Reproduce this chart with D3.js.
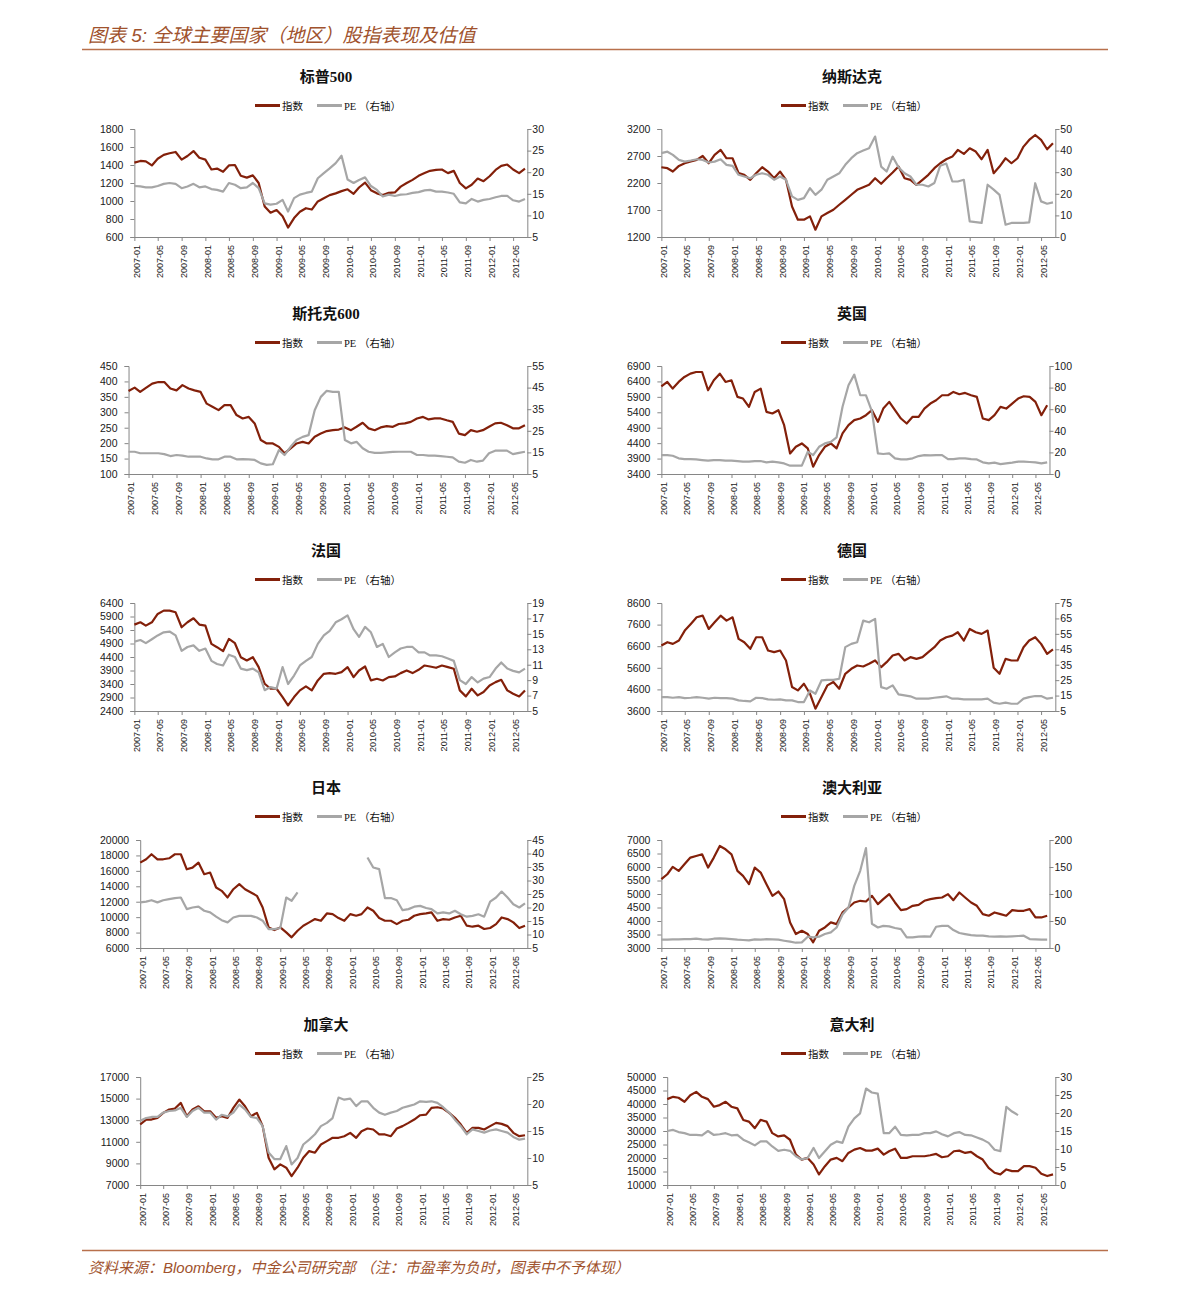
<!DOCTYPE html>
<html>
<head>
<meta charset="utf-8">
<title>全球主要国家（地区）股指表现及估值</title>
<script src="https://cdnjs.cloudflare.com/ajax/libs/d3/7.8.5/d3.min.js"></script>
<style>
body { margin: 0; background: #fff; }
svg text { font-family: "Liberation Sans", Arial, "Noto Sans CJK SC", sans-serif; }
.serif { font-family: "Liberation Serif", "Noto Sans CJK SC", serif; }
.axis path, .axis line { stroke: #868686; }
.axis text { fill: #1a1a1a; }
</style>
</head>
<body>
<script>
// monthly points, 2007-01 .. 2012-07
var months = d3.timeMonth.range(new Date(2007, 0, 1), new Date(2012, 7, 1));
var xTicks = d3.timeMonth.range(new Date(2007, 0, 1), new Date(2012, 5, 2), 4);

// ---- S&P 500
var spxIndex = [1427,1445,1440,1395,1470,1512,1530,1545,1460,1500,
  1555,1480,1460,1350,1360,1325,1395,1400,1280,1260,
  1285,1200,940,870,900,830,705,810,880,920,
  905,995,1030,1065,1085,1110,1130,1080,1150,1205,
  1120,1085,1065,1090,1095,1160,1200,1235,1280,1310,
  1335,1345,1350,1310,1335,1200,1140,1180,1250,1220,
  1275,1345,1390,1405,1350,1310,1360];
var spxPE = [16.8,16.7,16.5,16.5,16.8,17.3,17.5,17.3,16.3,16.7,
  17.3,16.5,16.7,16.1,15.9,15.5,17.5,17.1,16.3,16.5,
  17.5,16.3,12.8,12.5,12.7,13.6,10.9,14.0,14.8,15.2,
  15.5,18.6,19.8,20.9,22.1,23.8,18.3,17.5,18.2,18.8,
  16.8,15.9,14.4,14.8,14.5,14.8,14.9,15.2,15.4,15.8,
  15.9,15.5,15.5,15.3,15.0,13.0,12.8,13.8,13.2,13.6,
  13.8,14.2,14.5,14.5,13.5,13.2,13.8];
var spxLeft = [600,800,1000,1200,1400,1600,1800];
var spxRight = [5,10,15,20,25,30];

// ---- Nasdaq
var ndxIndex = [2492,2474,2412,2517,2566,2597,2628,2700,2566,2720,
  2812,2658,2658,2382,2351,2258,2382,2492,2412,2289,
  2412,2258,1766,1520,1520,1582,1335,1582,1643,1705,
  1797,1889,1982,2074,2123,2166,2289,2185,2289,2394,
  2505,2289,2258,2166,2258,2351,2474,2566,2640,2689,
  2812,2738,2843,2782,2640,2812,2382,2505,2658,2566,
  2658,2874,2997,3089,2997,2825,2935];
var ndxPE = [38.8,39.5,38.0,35.7,34.9,35.4,36.0,35.7,34.5,34.9,
  36.0,33.4,32.9,28.8,28.0,27.2,28.8,29.5,28.8,26.5,
  28.0,26.5,18.8,17.2,18.0,22.6,19.5,21.9,26.5,28.0,
  29.5,33.4,36.5,38.8,40.0,41.1,46.5,32.6,30.3,37.2,
  32.3,29.5,28.0,24.2,24.2,23.4,25.0,33.0,34.0,25.7,
  25.7,26.5,7.2,6.9,6.5,24.2,21.9,19.5,5.7,6.5,
  6.5,6.5,6.8,24.9,16.5,15.4,16.0];
var ndxLeft = [1200,1700,2200,2700,3200];
var ndxRight = [0,10,20,30,40,50];

// ---- Stoxx 600
var sxxIndex = [369,380,366,380,393,398,398,377,371,388,
  377,371,366,328,318,307,323,323,291,280,
  285,264,210,199,199,188,167,183,199,204,
  199,221,231,239,242,244,251,242,253,266,
  248,242,251,255,253,262,264,269,280,285,
  277,280,280,274,269,231,226,242,237,242,
  253,264,266,258,248,248,258];
var sxxPE = [15.3,15.3,14.6,14.6,14.6,14.6,14.2,13.3,13.8,13.5,
  13.0,13.0,13.0,12.2,11.8,11.8,13.0,13.0,11.8,11.9,
  11.8,11.5,9.9,9.2,9.5,16.1,13.8,17.6,20.7,22.2,
  23.0,34.5,40.7,43.5,43.0,43.0,20.7,19.2,19.9,16.9,
  15.3,14.8,14.8,15.0,15.2,15.3,15.3,15.3,13.8,13.8,
  13.5,13.5,13.3,13.0,12.7,10.7,10.2,11.5,10.7,11.2,
  14.6,15.8,15.8,15.8,14.2,14.8,15.3];
var sxxLeft = [100,150,200,250,300,350,400,450];
var sxxRight = [5,15,25,35,45,55];

// ---- UK
var ukIndex = [6243,6383,6168,6383,6545,6652,6706,6706,6114,6437,
  6652,6383,6437,5898,5845,5575,6060,6168,5414,5360,
  5468,4983,4067,4283,4391,4229,3637,4014,4283,4391,
  4229,4714,4983,5145,5198,5306,5468,5091,5521,5737,
  5468,5198,5037,5252,5252,5521,5683,5791,5952,5952,
  6060,5985,6028,5952,5898,5198,5145,5306,5575,5521,
  5683,5845,5920,5898,5737,5306,5629];
var ukPE = [17.5,17.5,16.9,14.5,13.8,13.8,13.5,12.9,12.3,12.9,
  12.9,12.3,12.3,12.0,11.4,11.4,12.0,12.0,10.8,11.4,
  10.8,9.8,7.7,7.7,7.7,20.6,17.5,25.2,28.3,29.8,
  34.0,62.2,82.2,92.0,72.9,72.9,58.0,19.1,18.5,19.1,
  14.5,13.5,13.5,14.5,16.6,17.5,17.2,17.5,17.5,13.8,
  13.8,14.5,14.5,13.8,13.5,10.8,9.8,10.5,9.2,9.8,
  10.5,11.4,11.4,11.1,10.8,9.8,10.8];
var ukLeft = [3400,3900,4400,4900,5400,5900,6400,6900];
var ukRight = [0,20,40,60,80,100];

// ---- France
var frIndex = [5600,5686,5563,5686,5994,6117,6117,6055,5501,5686,
  5834,5600,5563,4886,4763,4615,5071,4911,4394,4271,
  4394,4025,3409,3224,3224,2916,2609,2916,3163,3310,
  3163,3532,3778,3803,3778,3840,4025,3655,3901,4049,
  3532,3593,3532,3655,3680,3803,3901,3803,3926,4086,
  4049,4000,4086,4025,3963,3163,2941,3224,2978,3101,
  3347,3470,3557,3163,3040,2941,3163];
var frPE = [14.0,14.2,13.8,14.3,14.8,15.2,15.3,14.8,12.8,13.3,
  13.5,12.8,13.1,11.5,11.1,10.9,12.3,12.0,10.5,10.3,
  10.5,10.0,7.7,8.1,7.9,10.7,8.5,9.6,10.9,11.5,
  12.0,13.7,14.8,15.4,16.5,16.9,17.4,15.6,14.6,15.9,
  15.2,13.3,13.7,12.0,12.6,13.1,13.3,13.3,12.6,12.6,
  12.2,12.2,12.1,11.8,11.5,9.0,8.5,9.4,8.7,9.2,
  9.4,10.5,11.3,10.5,10.2,10.0,10.5];
var frLeft = [2400,2900,3400,3900,4400,4900,5400,5900,6400];
var frRight = [5,7,9,11,13,15,17,19];

// ---- Germany
var deIndex = [6631,6785,6708,6862,7323,7631,7938,8015,7400,7708,
  8015,7785,7938,6938,6785,6477,7015,7015,6400,6323,
  6400,5939,4708,4554,4862,4400,3708,4246,4785,4939,
  4631,5323,5554,5708,5662,5785,5939,5631,5862,6169,
  6246,5939,6092,6015,6092,6323,6554,6862,7015,7092,
  7246,6862,7400,7246,7169,7323,5600,5323,6015,5939,
  5939,6554,6862,7015,6708,6246,6450];
var dePE = [14.0,14.0,13.6,14.0,13.4,13.6,14.0,13.6,13.0,13.6,
  13.4,13.4,13.0,11.9,11.5,11.2,13.6,13.4,12.5,12.3,
  12.5,11.9,11.9,10.8,10.8,18.3,16.2,24.8,25.2,25.2,
  25.9,46.4,48.5,49.6,63.6,62.5,64.7,20.5,19.4,21.6,
  15.8,15.1,14.5,13.0,13.0,13.0,13.6,14.0,14.5,13.0,
  13.0,12.5,12.5,12.5,12.5,13.0,10.4,9.7,10.4,9.7,
  9.7,13.0,14.0,14.7,14.7,13.0,13.6];
var deLeft = [3600,4600,5600,6600,7600,8600];
var deRight = [5,15,25,35,45,55,65,75];

// ---- Japan
var jpIndex = [17070,17500,18150,17500,17500,17630,18150,18150,16200,16420,
  17070,15560,15780,13840,13410,12550,13620,14270,13620,13190,
  12760,11250,8670,8330,8670,8020,7380,8240,8890,9320,
  9750,9530,10480,10390,9880,9530,10390,10180,10390,11250,
  10820,9880,9530,9530,9100,9530,9660,10180,10390,10480,
  10610,9530,9750,9660,9960,10180,8890,8760,8890,8460,
  8590,9100,9960,9750,9320,8590,8890];
var jpPE = [21.9,22.2,22.7,21.9,22.7,23.1,23.5,23.7,19.4,20.0,
  20.3,18.8,18.2,16.6,15.3,14.5,16.3,16.9,16.9,16.9,
  16.3,15.1,12.0,12.0,12.4,23.7,22.5,25.6,null,null,
  null,null,null,null,null,null,null,null,null,38.5,
  34.8,34.2,23.5,23.5,22.7,19.0,19.4,20.3,20.6,19.8,
  19.4,17.8,18.2,17.8,18.8,17.5,16.6,16.9,17.5,16.6,
  22.2,23.7,25.9,23.7,21.2,20.0,21.5];
var jpLeft = [6000,8000,10000,12000,14000,16000,18000,20000];
var jpRight = [5,10,15,20,25,30,35,40,45];

// ---- Australia
var auIndex = [5548,5732,6003,5855,6101,6348,6409,6471,5978,6348,
  6778,6655,6471,5855,5671,5363,5978,5794,5363,4932,
  5092,4809,3947,3516,3639,3516,3209,3639,3762,3947,
  3885,4317,4501,4686,4748,4723,4932,4624,4809,4994,
  4686,4403,4440,4563,4600,4748,4809,4846,4871,4994,
  4772,5055,4871,4686,4563,4255,4194,4317,4255,4194,
  4403,4378,4378,4440,4132,4132,4194];
var auPE = [15.4,15.4,16.0,16.0,16.6,16.6,17.2,16.0,15.4,17.2,
  17.8,17.2,16.6,15.4,14.8,14.2,16.0,15.4,16.6,16.0,
  15.4,13.5,11.7,9.8,10.5,20.9,19.7,20.9,26.0,29.0,
  38.0,62.0,75.0,115.0,143.0,185.0,45.0,38.0,41.0,40.0,
  37.0,35.0,19.7,19.7,20.9,21.5,20.9,39.4,41.0,41.0,
  33.2,27.7,25.8,24.0,22.8,22.8,21.5,20.9,21.5,20.9,
  21.5,22.2,22.8,16.6,16.0,15.4,15.4];
var auLeft = [3000,3500,4000,4500,5000,5500,6000,6500,7000];
var auRight = [0,50,100,150,200];

// ---- Canada
var caIndex = [12600,13060,13060,13220,13680,13990,14080,14600,13370,13990,
  14290,13830,13830,13220,13370,13220,14140,14910,14290,13370,
  13680,12450,9520,8450,8910,8600,7830,8600,9520,10140,
  9990,10750,11060,11370,11370,11520,11830,11370,11980,12230,
  12140,11680,11680,11520,12230,12450,12750,13060,13460,13520,
  14140,14200,14080,13680,13220,12600,11830,12290,12290,12140,
  12450,12750,12660,12450,11830,11520,11610];
var caPE = [16.9,17.4,17.6,17.6,18.4,18.7,18.8,19.3,17.6,18.7,
  19.3,18.4,18.4,17.1,18.0,17.7,18.4,19.9,19.0,17.6,
  17.4,15.9,11.0,9.8,9.8,12.2,8.8,10.0,12.5,13.4,
  14.4,15.9,16.5,17.4,21.2,20.8,21.0,19.6,20.5,20.5,
  19.3,18.4,18.0,18.4,18.7,19.3,19.6,19.9,20.5,20.4,
  20.5,20.2,19.4,18.4,17.1,15.9,14.4,15.3,15.0,14.7,
  15.1,15.3,15.0,14.7,13.9,13.4,13.6];
var caLeft = [7000,9000,11000,13000,15000,17000];
var caRight = [5,10,15,20,25];

// ---- Italy
var itIndex = [41800,42660,42300,40830,43270,44500,42660,41800,39000,39600,
  40830,39000,38380,34100,33490,31040,34100,33490,29200,27990,
  28350,26760,21260,19420,20040,17590,13920,16980,19420,20040,
  18810,21870,23100,23710,22730,22730,23470,21260,22490,23470,
  20040,20040,20650,20650,20650,21020,21510,20280,20650,22490,
  22730,21870,22240,20650,19420,16370,14530,13920,15760,15150,
  15150,16980,16980,16370,14160,13310,13920];
var itPE = [15.0,15.3,14.7,14.4,13.9,13.9,13.8,15.0,13.9,14.1,
  14.4,13.8,13.9,12.6,11.9,11.0,12.1,12.1,10.7,9.5,
  9.8,9.5,8.0,7.1,7.5,10.3,7.5,9.4,11.2,12.1,
  11.7,16.2,18.5,19.9,26.8,25.7,25.4,14.4,14.4,16.2,
  13.9,13.8,13.9,13.9,14.4,14.4,14.9,14.1,13.5,14.4,
  14.7,13.9,13.8,13.2,12.6,11.7,9.8,9.4,21.7,20.4,
  19.4,null,null,null,null,null,null];
var itLeft = [10000,15000,20000,25000,30000,35000,40000,45000,50000];
var itRight = [0,5,10,15,20,25,30];

var titles = ["标普500","纳斯达克","斯托克600","英国","法国","德国","日本","澳大利亚","加拿大","意大利"];
var indexSeries = [spxIndex, ndxIndex, sxxIndex, ukIndex, frIndex, deIndex, jpIndex, auIndex, caIndex, itIndex];
var peSeries = [spxPE, ndxPE, sxxPE, ukPE, frPE, dePE, jpPE, auPE, caPE, itPE];
var leftTicks = [spxLeft, ndxLeft, sxxLeft, ukLeft, frLeft, deLeft, jpLeft, auLeft, caLeft, itLeft];
var rightTicks = [spxRight, ndxRight, sxxRight, ukRight, frRight, deRight, jpRight, auRight, caRight, itRight];

var W = 1191, H = 1296;
var indexColor = "#83200a", peColor = "#a6a6a6", brown = "#a0522d";
var xStart = new Date(2007, 0, 1), xEnd = new Date(2012, 6, 13);
var fmt = d3.format("d");

var svg = d3.select("body").append("svg")
  .attr("width", W)
  .attr("height", H);

// header + footer
svg.append("text").attr("x", 88).attr("y", 42)
  .style("font-size", "19px").style("font-style", "italic").attr("fill", brown)
  .text("图表 5:  全球主要国家（地区）股指表现及估值");
svg.append("line").attr("x1", 82).attr("x2", 1108).attr("y1", 49.5).attr("y2", 49.5)
  .attr("stroke", "#b8704c").attr("stroke-width", 1.3);
svg.append("line").attr("x1", 82).attr("x2", 1108).attr("y1", 1250.5).attr("y2", 1250.5)
  .attr("stroke", "#b8704c").attr("stroke-width", 1.3);
svg.append("text").attr("x", 88).attr("y", 1273)
  .style("font-size", "15px").style("font-style", "italic").attr("fill", brown)
  .text("资料来源：Bloomberg，中金公司研究部 （注：市盈率为负时，图表中不予体现）");

function maxWidth(vals, size) {
  var t = svg.append("g").style("font-size", size);
  var w = 0;
  vals.forEach(function(v) {
    w = Math.max(w, t.append("text").text(fmt(v)).node().getComputedTextLength());
  });
  t.remove();
  return w;
}

titles.forEach(function(title, i) {
  var col = i % 2, row = Math.floor(i / 2);
  var boxL = col ? 627 : 100, boxR = col ? 1071 : 543;
  var cx = col ? 852 : 326;
  var top = 129 + row * 237, bottom = 237 + row * 237;

  var x0 = boxL + maxWidth(leftTicks[i], "10.5px") + 11;
  var x1 = boxR - maxWidth(rightTicks[i], "10.5px") - 4;

  var x = d3.scaleTime().domain([xStart, xEnd]).range([x0, x1]);
  var yL = d3.scaleLinear().domain(d3.extent(leftTicks[i])).range([bottom, top]);
  var yR = d3.scaleLinear().domain(d3.extent(rightTicks[i])).range([bottom, top]);

  var g = svg.append("g");

  // title
  g.append("text").attr("class", "serif")
    .attr("x", cx).attr("y", 82 + row * 237)
    .attr("text-anchor", "middle")
    .style("font-size", "15px")
    .style("font-weight", "bold")
    .attr("fill", "#111")
    .text(title);

  // legend
  var ly = 105.5 + row * 237;
  g.append("line").attr("x1", cx - 71).attr("x2", cx - 46).attr("y1", ly).attr("y2", ly)
    .attr("stroke", indexColor).attr("stroke-width", 3);
  g.append("text").attr("class", "serif").attr("x", cx - 44).attr("y", ly + 4)
    .style("font-size", "10.5px").attr("fill", "#111").text("指数");
  g.append("line").attr("x1", cx - 9).attr("x2", cx + 16).attr("y1", ly).attr("y2", ly)
    .attr("stroke", peColor).attr("stroke-width", 3);
  g.append("text").attr("class", "serif").attr("x", cx + 18).attr("y", ly + 4)
    .style("font-size", "10.5px").attr("fill", "#111").text("PE （右轴）");

  // axes
  g.append("g").attr("class", "axis")
    .attr("transform", "translate(" + x0 + ",0)")
    .call(d3.axisLeft(yL).tickValues(leftTicks[i]).tickFormat(fmt).tickSize(4).tickPadding(7))
    .selectAll("text").style("font-size", "10.5px");

  g.append("g").attr("class", "axis")
    .attr("transform", "translate(" + x1 + ",0)")
    .call(d3.axisRight(yR).tickValues(rightTicks[i]).tickFormat(fmt).tickSize(4).tickPadding(1))
    .selectAll("text").style("font-size", "10.5px");

  g.append("g").attr("class", "axis")
    .attr("transform", "translate(0," + bottom + ")")
    .call(d3.axisBottom(x).tickValues(xTicks).tickSize(4).tickSizeOuter(0)
      .tickFormat(d3.timeFormat("%Y-%m")))
    .selectAll("text")
    .style("font-size", "9px")
    .attr("transform", "rotate(-90)")
    .attr("text-anchor", "end")
    .attr("x", -8)
    .attr("y", 0)
    .attr("dy", "0.55em");

  var idxData = months.map(function(d, k) { return {date: d, v: indexSeries[i][k]}; });
  var peData = months.map(function(d, k) { return {date: d, v: peSeries[i][k]}; });

  g.append("path").datum(idxData)
    .attr("fill", "none").attr("stroke", indexColor).attr("stroke-width", 2.2)
    .attr("stroke-linejoin", "round")
    .attr("d", d3.line().x(function(d) { return x(d.date); }).y(function(d) { return yL(d.v); }));

  g.append("path").datum(peData)
    .attr("fill", "none").attr("stroke", peColor).attr("stroke-width", 2.2)
    .attr("stroke-linejoin", "round")
    .attr("d", d3.line()
      .defined(function(d) { return d.v != null; })
      .x(function(d) { return x(d.date); }).y(function(d) { return yR(d.v); }));
});
</script>
</body>
</html>
